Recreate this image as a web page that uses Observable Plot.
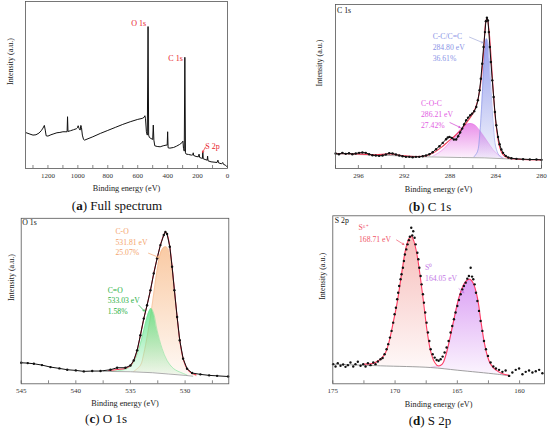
<!DOCTYPE html>
<html><head><meta charset="utf-8">
<script src="https://cdn.jsdelivr.net/npm/d3@7"></script>
<script src="https://cdn.jsdelivr.net/npm/@observablehq/plot@0.6"></script>
<style>
body{margin:0;background:#fff;}
#root{position:relative;width:550px;height:432px;overflow:hidden;font-family:"Liberation Serif",serif;}
#root svg, #root svg text{font-family:"Liberation Serif","Times New Roman",serif !important;}
.cap{position:absolute;font-size:13px;text-align:center;transform:translate(-50%,-50%);white-space:nowrap;color:#111;font-family:"Liberation Serif",serif;}
</style></head><body><div id="root"></div>
<script>
// ---------- DATA ----------
// (a) Full survey spectrum [binding energy eV, intensity a.u.]
const fullSpectrum = [[1345,21.4],[1320,20.6],[1300,20.0],[1280,20.2],[1260,21.2],[1245,22.6],[1233,24.2],[1224,25.8],[1218,23.0],[1212,19.6],[1200,19.4],[1180,20.2],[1160,20.8],[1140,21.4],[1120,21.6],[1100,22.0],[1080,22.0],[1072,22.0],[1069,31.0],[1066,22.2],[1050,22.6],[1030,23.2],[1010,23.8],[1003,24.4],[998,25.6],[992,24.0],[985,23.0],[980,25.8],[976,24.6],[970,20.0],[962,17.4],[955,17.0],[900,19.0],[850,21.0],[800,22.8],[750,24.6],[700,26.4],[650,28.0],[600,29.4],[570,30.0],[558,30.6],[552,31.6],[548,29.8],[542,22.0],[536,20.0],[531,85.0],[527,20.0],[522,18.6],[512,18.0],[500,17.4],[496,26.0],[492,17.0],[486,13.6],[470,13.2],[450,13.0],[430,13.6],[410,14.0],[403,14.0],[400,22.0],[397,12.4],[385,12.2],[360,12.6],[340,13.4],[320,14.4],[305,15.4],[298,16.4],[294,12.0],[289,10.4],[285,66.6],[281,9.4],[276,8.6],[260,8.4],[240,8.0],[232,8.2],[229,9.4],[226,7.8],[210,7.2],[195,7.0],[190,8.6],[186,6.6],[175,6.2],[168,6.0],[165,10.0],[162,5.8],[150,5.4],[136,5.0],[133,7.4],[130,4.6],[110,4.0],[90,3.8],[70,3.6],[64,5.0],[60,3.4],[40,2.8],[32,3.6],[28,2.6],[15,2.0],[5,1.2],[0,0.8]];
const fullTickLabels = [1200,1000,800,600,400,200,0];
const fullTicks = [1300,1200,1100,1000,900,800,700,600,500,400,300,200,100,0];

// (b) C 1s
const c1sData = [[297.99,9.13],[297.70,8.72],[297.40,9.53],[297.11,8.92],[296.82,9.33],[296.53,8.72],[296.23,9.13],[295.94,9.53],[295.65,9.74],[295.36,9.53],[295.06,8.72],[294.77,8.11],[294.48,7.91],[294.19,7.71],[293.89,7.91],[293.60,8.52],[293.31,9.33],[293.02,9.13],[292.72,8.52],[292.43,7.91],[292.14,7.51],[291.85,7.10],[291.55,7.10],[291.26,6.90],[290.97,7.10],[290.68,7.10],[290.38,7.51],[290.09,7.91],[289.80,8.72],[289.51,9.94],[289.21,11.76],[288.92,13.59],[288.63,15.62],[288.34,17.85],[288.19,18.86],[288.04,19.27],[287.84,18.66],[287.66,17.65],[287.46,17.65],[287.28,19.68],[287.11,21.91],[286.93,24.34],[286.76,26.98],[286.58,29.41],[286.41,31.03],[286.23,32.45],[286.06,33.47],[285.88,34.89],[285.70,37.53],[285.56,41.58],[285.41,47.67],[285.30,54.77],[285.18,63.89],[285.06,74.04],[284.94,83.16],[284.86,89.86],[284.77,91.89],[284.68,90.26],[284.60,83.16],[284.51,74.04],[284.42,64.91],[284.30,53.75],[284.18,43.61],[284.07,34.48],[283.95,26.37],[283.80,19.27],[283.66,14.81],[283.51,11.56],[283.36,9.53],[283.13,7.71],[282.90,6.69],[282.63,6.29],[282.19,5.88],[281.61,5.68],[281.02,5.48],[280.44,5.48],[280.0,5.27]];
const c1sFit = [[298,9.13],[296,8.92],[294.5,8.32],[293.3,8.92],[292,7.71],[291,7.30],[290,7.91],[289.3,10.14],[288.7,13.18],[288.2,16.23],[287.6,19.68],[287.0,23.94],[286.5,28.40],[286.0,33.47],[285.6,40.57],[285.3,52.74],[285.05,72.01],[284.85,90.26],[284.75,91.28],[284.6,85.19],[284.4,66.94],[284.2,45.64],[284.0,28.40],[283.7,14.20],[283.4,8.72],[283.0,6.69],[282.0,5.68],[280.0,5.27]];
const c1sBackground = [[298,8.92],[294,8.11],[290,7.10],[287,6.69],[285,6.49],[283,5.88],[281,5.48],[280,5.27]];
// component peaks: [eV, intensity, background]
const c1sCC = [[285.9,7.1,6.6],[285.6,10.1,6.6],[285.4,20.3,6.5],[285.2,41.6,6.5],[285.05,61.9,6.5],[284.92,74.0,6.5],[284.8,79.1,6.4],[284.68,77.1,6.4],[284.55,65.9,6.4],[284.4,46.7,6.3],[284.2,25.4,6.3],[284.0,13.2,6.2],[283.7,7.9,6.1],[283.4,6.3,6.0]];
const c1sCOC = [[289.5,7.5,7.3],[289.0,9.5,7.1],[288.5,12.2,7.0],[288.0,16.2,6.9],[287.5,20.3,6.8],[287.0,24.3,6.7],[286.6,26.6,6.6],[286.2,27.4,6.6],[285.8,26.4,6.5],[285.4,23.3,6.5],[285.0,19.3,6.5],[284.6,15.2,6.4],[284.2,11.2,6.3],[283.8,8.5,6.2],[283.3,6.5,6.0]];
const c1sTickLabels = [296,292,288,284,280];
const c1sTicks = [298,296,294,292,290,288,286,284,282,280];

// (c) O 1s
const o1sData = [[545.0,12.7],[544.4,12.5],[543.84,12.1],[543.1,11.3],[542.32,10.1],[541.5,9.3],[540.79,8.5],[540.0,8.1],[539.27,7.5],[538.5,7.7],[537.74,7.7],[536.83,8.5],[536.22,9.7],[535.46,9.7],[535.0,11.1],[534.70,14.1],[534.39,20.2],[534.09,29.3],[533.78,39.4],[533.48,47.5],[533.17,56.6],[532.87,66.7],[532.56,75.8],[532.26,83.8],[531.95,89.9],[531.80,91.7],[531.65,90.5],[531.40,82.8],[531.19,70.7],[530.98,56.6],[530.73,40.4],[530.49,26.3],[530.18,15.2],[529.82,9.1],[529.36,6.5],[528.6,5.7],[527.8,5.1],[527.07,4.8],[526.06,4.4]];
const o1sFit = [[537.0,8.0],[536.2,8.6],[535.5,9.3],[535.0,11.0],[534.7,14.0],[534.39,20.2],[534.09,29.3],[533.78,39.4],[533.48,47.5],[533.17,56.6],[532.87,66.7],[532.56,75.8],[532.26,83.8],[531.95,89.9],[531.80,91.5],[531.65,90.5],[531.40,82.8],[531.19,70.7],[530.98,56.6],[530.73,40.4],[530.49,26.3],[530.18,15.2],[529.82,9.1],[529.36,6.3],[529.0,5.4]];
const o1sBackground = [[537.5,7.5],[535,7.3],[533,6.7],[531.5,5.9],[530,5.1],[529.3,4.6]];
const o1sCO = [[534.70,7.5,7.2],[534.09,11.1,7.0],[533.78,18.2,6.95],[533.48,28.3,6.9],[533.17,40.4,6.8],[532.87,54.5,6.6],[532.56,68.7,6.5],[532.26,78.8,6.4],[531.95,82.4,6.2],[531.74,82.8,6.1],[531.49,80.8,6.0],[531.19,70.7,5.8],[530.73,40.4,5.6],[530.18,15.2,5.2],[529.82,9.1,5.1],[529.36,6.1,4.9],[529.0,4.8,4.7]];
const o1sCdO = [[536.8,7.5,7.4],[535.31,9.1,7.3],[534.70,13.1,7.2],[534.09,24.2,7.0],[533.63,36.4,6.9],[533.32,43.4,6.8],[533.11,45.5,6.7],[532.87,42.4,6.6],[532.56,32.3,6.5],[532.10,21.2,6.3],[531.65,14.1,6.1],[531.04,9.1,5.7],[530.27,6.5,5.3],[529.82,5.3,5.2]];
const o1sTickLabels = [545,540,535,530];
const o1sTicks = [545,542.5,540,537.5,535,532.5,530,527.5];

// (d) S 2p
const s2pData = [[174.97,11.7],[174.78,10.3],[174.6,12.3],[174.38,10.7],[174.17,11.5],[173.98,10.1],[173.79,11.1],[173.58,12.7],[173.36,10.3],[173.18,11.7],[172.99,13.1],[172.77,10.7],[172.56,11.7],[172.37,10.3],[172.18,12.3],[171.97,11.1],[171.75,12.7],[171.57,11.7],[171.38,13.3],[171.17,14.6],[171.0,15.4],[170.84,17.6],[170.68,20.6],[170.55,23.6],[170.41,27.5],[170.28,31.5],[170.15,36.4],[170.04,41.4],[169.93,45.3],[169.83,50.3],[169.75,54.2],[169.67,58.2],[169.56,62.2],[169.48,65.2],[169.37,69.1],[169.29,73.1],[169.21,77.0],[169.1,80.0],[169.0,83.0],[168.89,85.5],[168.81,87.5],[168.7,92.9],[168.62,88.3],[168.54,90.8],[168.43,86.9],[168.35,83.0],[168.21,78.0],[168.13,74.1],[168.05,69.1],[167.95,64.2],[167.87,59.2],[167.76,53.3],[167.68,48.3],[167.58,42.4],[167.47,36.4],[167.36,30.5],[167.25,25.5],[167.14,20.6],[166.98,17.6],[166.82,15.6],[166.66,14.2],[166.5,13.7],[166.34,14.6],[166.18,16.2],[166.02,18.6],[165.86,21.6],[165.7,25.5],[165.54,30.5],[165.41,34.4],[165.27,38.4],[165.14,42.4],[165.0,46.3],[164.87,49.9],[164.73,53.3],[164.6,56.2],[164.47,58.2],[164.33,60.2],[164.2,62.6],[164.07,64.2],[163.93,69.1],[163.82,63.8],[163.72,62.2],[163.61,59.2],[163.5,54.2],[163.39,49.3],[163.26,43.4],[163.13,37.4],[162.99,31.5],[162.86,25.5],[162.7,20.6],[162.54,16.6],[162.33,12.7],[162.11,10.3],[161.9,9.1],[161.65,8.3],[161.38,7.1],[161.12,7.9],[160.85,4.7],[160.58,6.7],[160.31,8.3],[160.04,9.1],[159.77,5.7],[159.51,7.1],[159.24,7.9],[158.97,6.7],[158.7,7.5],[158.43,8.3],[158.17,6.3]];
const s2pFit = [[172.51,11.7],[171.7,12.3],[171.17,14.6],[170.76,18.6],[170.5,24.5],[170.15,36.4],[169.83,48.3],[169.42,68.1],[169.15,80.0],[168.89,86.3],[168.7,87.9],[168.49,84.9],[168.22,76.0],[167.95,62.2],[167.68,46.3],[167.41,30.5],[167.15,19.6],[166.88,13.6],[166.56,10.7],[166.21,11.7],[165.94,16.6],[165.67,24.5],[165.27,38.4],[164.87,51.3],[164.47,59.2],[164.2,61.8],[163.98,62.2],[163.72,59.8],[163.39,51.3],[163.13,38.4],[162.86,25.5],[162.59,16.6],[162.33,11.7],[161.92,8.3],[161.25,5.7],[160.85,5.1]];
const s2pBackground = [[175,11.7],[171.17,10.7],[167.15,9.7],[165.0,8.1],[161.79,5.7],[160.72,4.7]];
const s2pS6 = [[172.0,11.2,11.0],[171.17,14.6,10.7],[170.76,18.6,10.6],[170.5,24.5,10.5],[170.15,36.4,10.4],[169.83,48.3,10.3],[169.42,68.1,10.2],[169.15,80.0,10.1],[168.89,86.3,10.0],[168.7,87.9,10.0],[168.49,84.9,9.9],[168.22,76.0,9.9],[167.95,62.2,9.8],[167.68,46.3,9.8],[167.41,30.5,9.7],[167.15,19.6,9.7],[166.88,13.0,9.5],[166.56,10.0,9.3],[166.3,9.2,9.1]];
const s2pS0 = [[167.2,9.7,9.6],[166.88,10.2,9.4],[166.56,10.7,9.2],[166.21,11.7,8.9],[165.94,16.6,8.7],[165.67,24.5,8.5],[165.27,38.4,8.2],[164.87,51.3,7.8],[164.47,59.2,7.5],[164.2,61.8,7.3],[163.98,62.2,7.1],[163.72,59.8,6.9],[163.39,51.3,6.6],[163.13,38.4,6.4],[162.86,25.5,6.2],[162.59,16.6,6.0],[162.33,11.7,5.9],[161.92,8.3,5.8],[161.5,6.2,5.5],[161.0,5.1,5.0]];
const s2pTickLabels = [175,170,165,160];
const s2pTicks = [175,172.5,170,167.5,165,162.5,160];

// ---------- DRAWING ----------
const FONT = "Liberation Serif";
const root = document.getElementById("root");
const X = d => d[0], Y = d => d[1], B = d => d[2];

function addGradients(svg, grads) {
  const ns = "http://www.w3.org/2000/svg";
  const defs = document.createElementNS(ns, "defs");
  for (const [id, color, o1, o2] of grads) {
    const g = document.createElementNS(ns, "linearGradient");
    g.setAttribute("id", id); g.setAttribute("x1", "0"); g.setAttribute("y1", "0"); g.setAttribute("x2", "0"); g.setAttribute("y2", "1");
    for (const [off, op] of [[0, o1], [1, o2]]) {
      const s = document.createElementNS(ns, "stop");
      s.setAttribute("offset", off); s.setAttribute("stop-color", color); s.setAttribute("stop-opacity", op);
      g.appendChild(s);
    }
    defs.appendChild(g);
  }
  svg.insertBefore(defs, svg.firstChild);
}

function panel(cfg) {
  const innerH = cfg.height - cfg.mt - cfg.mb;
  const svg = Plot.plot({
    width: cfg.width, height: cfg.height,
    marginTop: cfg.mt, marginRight: cfg.mr, marginBottom: cfg.mb, marginLeft: cfg.ml,
    style: {fontFamily: FONT, background: "transparent", overflow: "visible"},
    x: {domain: cfg.domain},
    y: {domain: [0, 100], axis: null},
    marks: [
      ...cfg.marks,
      Plot.frame({stroke: "#555", strokeWidth: 0.8}),
      Plot.tickX(cfg.ticks, {x: d => d, insetTop: innerH - 3, stroke: "#555", strokeWidth: 0.7}),
      Plot.axisX({ticks: cfg.tickLabels, tickFormat: d => String(d), tickSize: 0, tickPadding: 4.5, fontSize: 7, fontFamily: FONT, color: "#333", label: null}),
      Plot.text(["Binding energy (eV)"], {text: d => d, frameAnchor: "bottom", dy: cfg.xlabDy, fontSize: 8.2, fontFamily: FONT, fill: "#222"}),
      Plot.text(["Intensity (a.u.)"], {text: d => d, frameAnchor: "left", rotate: -90, dx: -cfg.ylabDx, fontSize: 8, fontFamily: FONT, fill: "#222"})
    ]
  });
  if (cfg.grads) addGradients(svg, cfg.grads);
  svg.style.position = "absolute";
  svg.style.left = cfg.left + "px";
  svg.style.top = cfg.top + "px";
  root.appendChild(svg);
}

function caption(letter, rest, x, y) {
  const d = document.createElement("div");
  d.className = "cap";
  d.innerHTML = `(<b>${letter}</b>) ${rest}`;
  d.style.left = x + "px"; d.style.top = y + "px";
  root.appendChild(d);
}

const RED = "#e8202c";
const txt = (s, o) => Plot.text([s], {text: d => d, fontSize: 7.7, fontFamily: FONT, ...o});
const arr = (o) => Plot.arrow([o], {x1: "x1", y1: "y1", x2: "x2", y2: "y2", stroke: o.c, strokeWidth: 0.7, headLength: 3.5});

// (a)
panel({
  left: 0, top: 0, width: 275, height: 216, mt: 1, mr: 48, mb: 48, ml: 25,
  domain: [1350, 0], ticks: fullTicks, tickLabels: fullTickLabels, xlabDy: 22, ylabDx: 15,
  marks: [
    Plot.line(fullSpectrum, {x: X, y: Y, stroke: "#111", strokeWidth: 1}),
    txt("O 1s", {x: 593, y: 86.8, fill: RED, fontSize: 8}),
    txt("C 1s", {x: 347, y: 65.9, fill: RED, fontSize: 8}),
    txt("S 2p", {x: 100, y: 13.2, fill: RED, fontSize: 8}),
    arr({x1: 147, y1: 12.9, x2: 167, y2: 9.6, c: RED})
  ]
});

// (b)
const BLUE = "#8a94e6", MAG = "#e25ce2", FIT = "#f23a55";
panel({
  left: 275, top: 0, width: 275, height: 216, mt: 4, mr: 9, mb: 48, ml: 60,
  domain: [298, 280], ticks: c1sTicks, tickLabels: c1sTickLabels, xlabDy: 23, ylabDx: 16,
  grads: [["gB", "#6f7be4", 0.75, 0.08], ["gM", "#e05ce0", 0.7, 0.08]],
  marks: [
    Plot.areaY(c1sCOC, {x: X, y1: B, y2: Y, fill: "url(#gM)", curve: "catmull-rom"}),
    Plot.line(c1sCOC, {x: X, y: Y, stroke: MAG, strokeWidth: 0.5, strokeOpacity: 0.6, curve: "catmull-rom"}),
    Plot.areaY(c1sCC, {x: X, y1: B, y2: Y, fill: "url(#gB)", curve: "catmull-rom"}),
    Plot.line(c1sCC, {x: X, y: Y, stroke: BLUE, strokeWidth: 0.6, curve: "catmull-rom"}),
    Plot.line(c1sBackground, {x: X, y: Y, stroke: "#888", strokeWidth: 0.7}),
    Plot.line(c1sFit, {x: X, y: Y, stroke: FIT, strokeWidth: 1.1, curve: "catmull-rom"}),
    Plot.line(c1sData, {x: X, y: Y, stroke: "#111", strokeWidth: 1}),
    Plot.dot(c1sData, {x: X, y: Y, r: 1.2, fill: "#111"}),
    txt("C 1s", {frameAnchor: "top-left", dx: 1.5, dy: 3, textAnchor: "start", lineAnchor: "top", fill: "#111", fontSize: 7.8}),
    txt("C-C/C=C\n284.80 eV\n36.61%", {x: 289.51, y: 83.6, textAnchor: "start", lineAnchor: "top", lineHeight: 1.43, fill: BLUE}),
    arr({x1: 286.29, y1: 80.1, x2: 285.12, y2: 76.7, c: "#a3aad8"}),
    txt("C-O-C\n286.21 eV\n27.42%", {x: 290.53, y: 43.1, textAnchor: "start", lineAnchor: "top", lineHeight: 1.45, fill: MAG}),
    arr({x1: 288.0, y1: 28.0, x2: 287.1, y2: 25.0, c: "#d040d0"})
  ]
});

// (c)
const ORG = "#f4a46c", GRN = "#27b043";
panel({
  left: 0, top: 216, width: 275, height: 216, mt: 1.8, mr: 46.7, mb: 48.7, ml: 20.7,
  domain: [545, 526], ticks: o1sTicks, tickLabels: o1sTickLabels, xlabDy: 22, ylabDx: 10,
  grads: [["gO", "#f7b37c", 0.7, 0.08], ["gG", "#4be07a", 0.75, 0.08]],
  marks: [
    Plot.areaY(o1sCO, {x: X, y1: B, y2: Y, fill: "url(#gO)", curve: "catmull-rom"}),
    Plot.line(o1sCO, {x: X, y: Y, stroke: ORG, strokeWidth: 0.5, strokeOpacity: 0.7, curve: "catmull-rom"}),
    Plot.areaY(o1sCdO, {x: X, y1: B, y2: Y, fill: "url(#gG)", curve: "catmull-rom"}),
    Plot.line(o1sCdO, {x: X, y: Y, stroke: "#6ee08e", strokeWidth: 0.5, curve: "catmull-rom"}),
    Plot.line(o1sBackground, {x: X, y: Y, stroke: "#888", strokeWidth: 0.7}),
    Plot.line(o1sFit, {x: X, y: Y, stroke: FIT, strokeWidth: 1.1, curve: "catmull-rom"}),
    Plot.line(o1sData, {x: X, y: Y, stroke: "#111", strokeWidth: 1}),
    Plot.dot(o1sData, {x: X, y: Y, r: 1.2, fill: "#111"}),
    txt("O 1s", {frameAnchor: "top-left", dx: 1, dy: 1.5, textAnchor: "start", lineAnchor: "top", fill: "#111", fontSize: 7.8}),
    txt("C-O\n531.81 eV\n25.07%", {x: 536.37, y: 94.7, textAnchor: "start", lineAnchor: "top", lineHeight: 1.36, fill: ORG}),
    arr({x1: 533.35, y1: 78.9, x2: 532.41, y2: 76.4, c: ORG}),
    txt("C=O\n533.03 eV\n1.58%", {x: 537.08, y: 59.5, textAnchor: "start", lineAnchor: "top", lineHeight: 1.38, fill: GRN}),
    arr({x1: 534.24, y1: 47.5, x2: 533.72, y2: 43.9, c: GRN})
  ]
});

// (d)
const SRED = "#f0566a", SPUR = "#c57ae6";
panel({
  left: 275, top: 212, width: 275, height: 220, mt: 3.3, mr: 6, mb: 48.7, ml: 57.3,
  domain: [175, 158], ticks: s2pTicks, tickLabels: s2pTickLabels, xlabDy: 23.5, ylabDx: 10.5,
  grads: [["gR", "#f4a8a4", 0.75, 0.08], ["gP", "#cf80f0", 0.75, 0.08]],
  marks: [
    Plot.areaY(s2pS6, {x: X, y1: B, y2: Y, fill: "url(#gR)", curve: "catmull-rom"}),
    Plot.areaY(s2pS0, {x: X, y1: B, y2: Y, fill: "url(#gP)", curve: "catmull-rom"}),
    Plot.line(s2pS0, {x: X, y: Y, stroke: SPUR, strokeWidth: 0.5, strokeOpacity: 0.6, curve: "catmull-rom"}),
    Plot.line(s2pBackground, {x: X, y: Y, stroke: "#888", strokeWidth: 0.8, curve: "catmull-rom"}),
    Plot.line(s2pFit, {x: X, y: Y, stroke: "#ff3d62", strokeWidth: 1.1, curve: "catmull-rom"}),
    Plot.dot(s2pData, {x: X, y: Y, r: 1.2, fill: "#111"}),
    txt("S 2p", {frameAnchor: "top-left", dx: 2, dy: 2, textAnchor: "start", lineAnchor: "top", fill: "#111", fontSize: 7.8}),
    txt("S⁶⁺", {x: 172.93, y: 92.9, textAnchor: "start", fill: SRED}),
    txt("168.71 eV", {x: 172.9, y: 85.9, textAnchor: "start", fill: SRED}),
    arr({x1: 169.88, y1: 85.6, x2: 169.29, y2: 82.9, c: SRED}),
    txt("S⁰", {x: 167.59, y: 69.5, textAnchor: "start", fill: SPUR}),
    txt("164.05 eV", {x: 167.59, y: 62.6, textAnchor: "start", fill: SPUR}),
    arr({x1: 164.87, y1: 56.6, x2: 164.47, y2: 54.2, c: SPUR})
  ]
});

caption("a", "Full spectrum", 117, 206);
caption("b", "C 1s", 430, 206.5);
caption("c", "O 1s", 106, 419);
caption("d", "S 2p", 430, 421);
</script></body></html>
